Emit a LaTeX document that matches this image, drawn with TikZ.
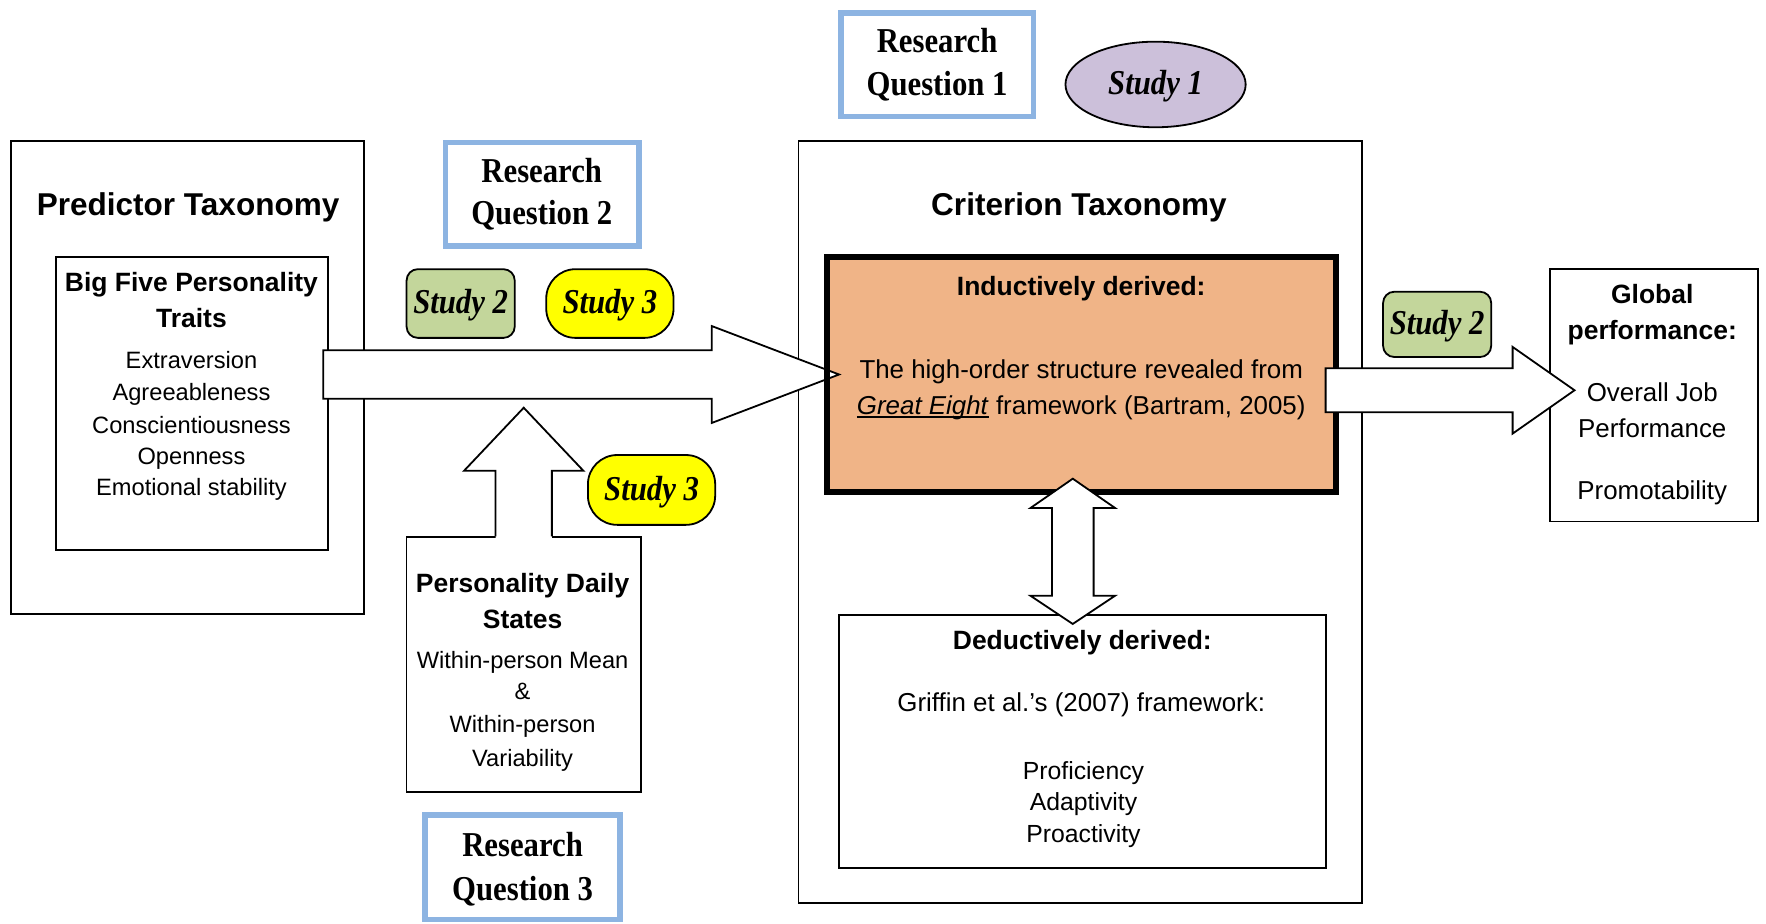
\documentclass[tikz,border=0pt]{standalone}
\usepackage{fontspec}
\setmainfont{Liberation Sans}
\newfontfamily\narrowserif[FakeStretch=0.88]{Liberation Serif}
\usetikzlibrary{calc,shapes.geometric}

\definecolor{rqblue}{RGB}{141,180,226}
\definecolor{studygreen}{RGB}{195,214,155}
\definecolor{studyyellow}{RGB}{255,255,0}
\definecolor{studylilac}{RGB}{204,192,218}
\definecolor{indorange}{RGB}{240,180,135}

\newcommand\fsz[1]{\fontsize{#1}{#1}\selectfont}
% underline sitting close to the baseline
\newcommand\tightul[1]{\setbox0\hbox{#1}\rlap{\rule[-0.12em]{\wd0}{0.065em}}\box0\relax}

\begin{document}
\begin{tikzpicture}[x=1pt,y=-1pt,
  box/.style={draw=black, line width=1.6pt, fill=white, rectangle, inner sep=0},
  rqbox/.style={draw=rqblue, line width=5pt, fill=white, rectangle, inner sep=0},
  lbl/.style={inner sep=0, anchor=base},
  hd/.style={lbl, font=\bfseries\fsz{28}},
  sub/.style={lbl, font=\bfseries\fsz{23.5}},
  item/.style={lbl, font=\fsz{21}},
  body/.style={lbl, font=\fsz{23}},
  small/.style={lbl, font=\fsz{22}},
  rq/.style={lbl, font=\narrowserif\bfseries\fsz{31}},
  study/.style={draw=black, line width=1.6pt, inner sep=0,
    text height=25pt, text depth=6.8pt,
    font=\narrowserif\bfseries\itshape\fsz{31}},
  blockarrow/.style={draw=black, line width=1.6pt, fill=white, line join=miter},
]
\useasboundingbox (0,0) rectangle (1568,820);

% ---------- containers ----------
\node[box, minimum width=313, minimum height=420] (pred) at (166.5,335) {};
\node[box, minimum width=241, minimum height=260] (bigfive) at (170.5,358) {};
\node[box, minimum width=500, minimum height=677] (crit) at (959,463.5) {};
\node[box, minimum width=432, minimum height=225] (deduct) at (961,658.5) {};
\node[box, minimum width=185, minimum height=224] (glob) at (1468.5,351) {};
\node[box, minimum width=208, minimum height=226] (pds) at (465,590) {};

\node[rqbox, minimum width=171, minimum height=92] (rq1) at (832,57.5) {};
\node[rqbox, minimum width=172, minimum height=92] (rq2) at (481.5,172.5) {};
\node[rqbox, minimum width=173, minimum height=93] (rq3) at (464,770) {};

% inductive block: fill first, border after the incoming arrow
\node[rectangle, fill=indorange, minimum width=452, minimum height=209,
      inner sep=0, outer sep=0] (ind) at (960,332.5) {};

% ---------- predictor -> criterion arrow ----------
\coordinate (mTail) at (287,332.5);
\coordinate (mTip) at (745,332.5);
\draw[blockarrow] ($(mTail)+(0,-21.5)$) -- ($(mTip)+(-113,-21.5)$)
  -- ($(mTip)+(-113,-43)$) -- (mTip) -- ($(mTip)+(-113,43)$)
  -- ($(mTip)+(-113,21.5)$) -- ($(mTail)+(0,21.5)$) -- cycle;

\draw[line width=5pt] (ind.north west) rectangle (ind.south east);

% ---------- criterion -> global performance arrow ----------
\coordinate (rTail) at (1177,346.5);
\coordinate (rTip) at (1398,346.5);
\draw[blockarrow] ($(rTail)+(0,-19.5)$) -- ($(rTip)+(-55,-19.5)$)
  -- ($(rTip)+(-55,-38.5)$) -- (rTip) -- ($(rTip)+(-55,38.5)$)
  -- ($(rTip)+(-55,19.5)$) -- ($(rTail)+(0,19.5)$) -- cycle;

% ---------- inductive <-> deductive double arrow ----------
\coordinate (dTop) at (952.5,425);
\coordinate (dBot) at (952.5,554);
\draw[blockarrow] (dTop) -- ($(dTop)+(37.5,26)$) -- ($(dTop)+(18.5,26)$)
  -- ($(dBot)+(18.5,-25)$) -- ($(dBot)+(37.5,-25)$) -- (dBot)
  -- ($(dBot)+(-37.5,-25)$) -- ($(dBot)+(-18.5,-25)$)
  -- ($(dTop)+(-18.5,26)$) -- ($(dTop)+(-37.5,26)$) -- cycle;

% ---------- daily states -> main arrow ----------
\coordinate (uTip) at (465,362);
\fill[white] ($(pds.north)+(-25,2)$) -- ($(uTip)+(-25,56)$) -- ($(uTip)+(-53,56)$)
  -- (uTip) -- ($(uTip)+(53,56)$) -- ($(uTip)+(25,56)$) -- ($(pds.north)+(25,2)$) -- cycle;
\draw[line width=1.6pt, line join=miter] ($(pds.north)+(-25,0)$) -- ($(uTip)+(-25,56)$)
  -- ($(uTip)+(-53,56)$) -- (uTip) -- ($(uTip)+(53,56)$) -- ($(uTip)+(25,56)$)
  -- ($(pds.north)+(25,0)$);

% ---------- study tags ----------
\node[study, fill=studylilac, ellipse, minimum width=160, minimum height=76] (s1) at (1026,75) {Study 1};
\node[study, fill=studygreen, rounded corners=10, minimum width=96, minimum height=61] (s2a) at (409,269.5) {Study 2};
\node[study, fill=studyyellow, rounded corners=26, minimum width=113, minimum height=61] (s3a) at (541.5,269.5) {Study 3};
\node[study, fill=studyyellow, rounded corners=26, minimum width=113, minimum height=62] (s3b) at (578.5,435) {Study 3};
\node[study, fill=studygreen, rounded corners=10, minimum width=96, minimum height=58] (s2b) at (1276,288) {Study 2};

% ---------- research questions ----------
\node[rq] (rq1a) at (832,46.2) {Research};
\node[rq] (rq1b) at (832,85.2) {Question 1};
\node[rq] (rq2a) at (481,162.2) {Research};
\node[rq] (rq2b) at (481,199.2) {Question 2};
\node[rq] (rq3a) at (464,760.2) {Research};
\node[rq] (rq3b) at (464,799.2) {Question 3};

% ---------- predictor taxonomy ----------
\node[hd] (predT) at (167,191) {Predictor Taxonomy};
\node[sub] (bfA) at (170,258.4) {Big Five Personality};
\node[sub] (bfB) at (170,290.4) {Traits};
\node[item] (bf1) at (170,327.5) {Extraversion};
\node[item] (bf2) at (170,355.5) {Agreeableness};
\node[item] (bf3) at (170,384.5) {Conscientiousness};
\node[item] (bf4) at (170,412.5) {Openness};
\node[item] (bf5) at (170,439.5) {Emotional stability};

% ---------- personality daily states ----------
\node[sub] (pdA) at (464,526.4) {Personality Daily};
\node[sub] (pdB) at (464,558.4) {States};
\node[item] (pd1) at (464,593.5) {Within-person Mean};
\node[item] (pd2) at (464,621.5) {\&};
\node[item] (pd3) at (464,650.5) {Within-person};
\node[item] (pd4) at (464,680.5) {Variability};

% ---------- criterion taxonomy ----------
\node[hd] (critT) at (958,191) {Criterion Taxonomy};
\node[sub] (indT) at (960,262.4) {Inductively derived:};
\node[body] (ind1) at (960,336.3) {The high-order structure revealed from};
\node[body] (ind2) at (960,368.3) {\tightul{\textit{Great Eight}} framework (Bartram, 2005)};
\node[sub] (dedT) at (961,576.4) {Deductively derived:};
\node[body] (ded0) at (960,631.3) {Griffin et al.’s (2007) framework:};
\node[small] (ded1) at (962,691.9) {Proficiency};
\node[small] (ded2) at (962,719.9) {Adaptivity};
\node[small] (ded3) at (962,747.9) {Proactivity};

% ---------- global performance ----------
\node[sub] (glA) at (1467,269.4) {Global};
\node[sub] (glB) at (1467,301.4) {performance:};
\node[body] (gl1) at (1467,356.3) {Overall Job};
\node[body] (gl2) at (1467,388.3) {Performance};
\node[body] (gl3) at (1467,443.3) {Promotability};
\end{tikzpicture}
\end{document}
